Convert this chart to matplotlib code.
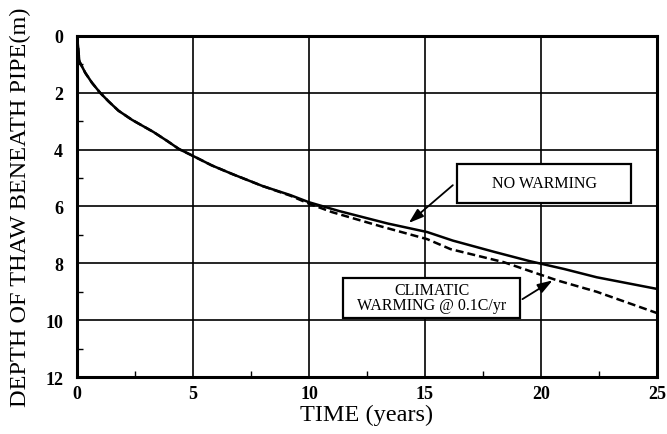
import matplotlib

matplotlib.use("Agg")
import matplotlib.pyplot as plt
from matplotlib.patches import Rectangle
from matplotlib.ticker import MultipleLocator

# time (years) and thaw depth (m)
t_none = [0, 0.05, 0.1, 0.36, 0.65, 1.0, 1.36, 1.79, 2.37, 3.3, 3.9, 4.4, 5.0, 5.8, 6.7, 8.0,
          9.2, 10.0, 11.3, 13.4, 15.1, 16.2, 18.0, 19.5, 21.0, 22.4, 25.0]
d_none = [0, 0.4, 0.89, 1.3, 1.65, 2.0, 2.3, 2.63, 2.95, 3.38, 3.7, 3.98, 4.22, 4.55, 4.86, 5.28,
          5.6, 5.85, 6.16, 6.6, 6.9, 7.2, 7.6, 7.92, 8.2, 8.49, 8.9]

t_warm = [0, 0.05, 0.1, 0.36, 0.65, 1.0, 1.36, 1.79, 2.37, 3.3, 3.9, 4.4, 5.0, 5.8, 6.7, 8.0,
          9.2, 10.0, 11.0, 13.1, 15.1, 16.1, 18.4, 20.7, 22.4, 25.0]
d_warm = [0, 0.4, 0.89, 1.3, 1.65, 2.0, 2.3, 2.63, 2.95, 3.38, 3.7, 3.98, 4.22, 4.55, 4.86, 5.28,
          5.62, 5.9, 6.2, 6.7, 7.15, 7.5, 7.96, 8.6, 9.0, 9.75]

SERIF = ["Liberation Serif", "DejaVu Serif"]
plt.rcParams["font.family"] = SERIF

fig = plt.figure(figsize=(6.67, 4.35), dpi=100)
ax = fig.add_axes([0.1154, 0.131, 0.8696, 0.784])

ax.plot(t_warm, d_warm, color="black", linewidth=1.8, linestyle=(0, (3.2, 1.6)))
ax.plot(t_none, d_none, color="black", linewidth=1.8)

ax.set_xlim(0, 25)
ax.set_ylim(12, 0)
ax.xaxis.set_major_locator(MultipleLocator(5))
ax.yaxis.set_major_locator(MultipleLocator(2))
ax.xaxis.set_minor_locator(MultipleLocator(2.5))
ax.yaxis.set_minor_locator(MultipleLocator(1))
ax.grid(True, which="major", color="black", linewidth=1.2)
ax.tick_params(which="both", direction="in", labelsize=13)
ax.tick_params(axis="y", pad=10)
ax.tick_params(axis="x", pad=6)
ax.tick_params(which="major", length=0)
ax.tick_params(which="minor", length=4, width=1)
for lbl in ax.get_xticklabels() + ax.get_yticklabels():
    lbl.set_fontweight("bold")
for sp in ax.spines.values():
    sp.set_linewidth(2.2)

ax.set_xlabel("TIME (years)", fontsize=17.5, labelpad=1)
ax.set_ylabel("DEPTH OF THAW BENEATH PIPE(m)", fontsize=17.5, labelpad=10)

# label boxes
ax.add_patch(Rectangle((16.4, 4.5), 7.5, 1.38, facecolor="white", edgecolor="black",
                       linewidth=1.6, zorder=4))
ax.text(20.15, 5.19, "NO WARMING", ha="center", va="center", fontsize=11.5, zorder=5)
ax.add_patch(Rectangle((11.47, 8.52), 7.63, 1.41, facecolor="white", edgecolor="black",
                       linewidth=1.6, zorder=4))
ax.text(15.3, 9.2, "CLIMATIC\nWARMING @ 0.1C/yr", ha="center", va="center", fontsize=11.5,
        linespacing=0.95, zorder=5)

arrow = dict(arrowstyle="-|>,head_length=0.9,head_width=0.3", color="black", linewidth=1.3,
             shrinkA=0, shrinkB=0)
ax.annotate("", xy=(14.3, 6.58), xytext=(16.2, 5.25), arrowprops=arrow)
ax.annotate("", xy=(20.5, 8.6), xytext=(19.2, 9.26), arrowprops=arrow)

fig.savefig("out.png", dpi=100)
